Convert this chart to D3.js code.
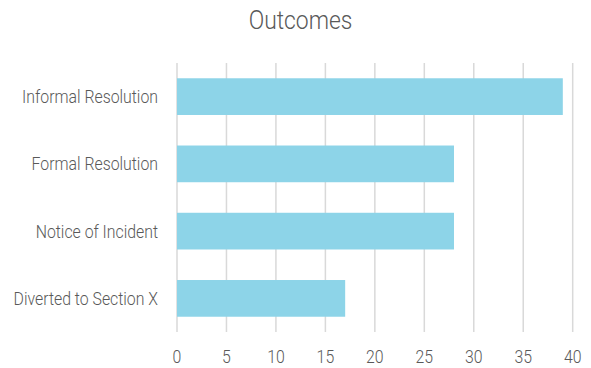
<!DOCTYPE html>
<html>
<head>
<meta charset="utf-8">
<script src="https://cdn.jsdelivr.net/npm/d3@7"></script>
<style>
  html, body { margin: 0; padding: 0; background: #fff; }
  text { font-family: Roboto, "Noto Sans", sans-serif; font-weight: 300; fill: #595959; }
</style>
</head>
<body>
<svg id="chart" width="591" height="368"></svg>
<script>
const categories = ["Informal Resolution", "Formal Resolution", "Notice of Incident", "Diverted to Section X"];
const values = [39, 28, 28, 17];
const tickValues = [0, 5, 10, 15, 20, 25, 30, 35, 40];
const title = "Outcomes";

const plot = { left: 177, right: 572.7, top: 63, bottom: 332 };
const squeeze = 0.88; // narrow letterforms

const svg = d3.select("#chart");

const x = d3.scaleLinear().domain([0, 40]).range([plot.left, plot.right]);
const y = d3.scaleBand().domain(categories).range([plot.top, plot.bottom])
  .paddingInner(0.454).paddingOuter(0.227);

// vertical gridlines
svg.append("g").selectAll("line").data(tickValues).join("line")
  .attr("x1", d => x(d)).attr("x2", d => x(d))
  .attr("y1", plot.top).attr("y2", plot.bottom)
  .attr("stroke", "#d9d9d9").attr("stroke-width", 1.5);

// bars
svg.append("g").selectAll("rect").data(categories).join("rect")
  .attr("x", x(0))
  .attr("y", d => y(d))
  .attr("width", (d, i) => x(values[i]) - x(0))
  .attr("height", y.bandwidth())
  .attr("fill", "#8dd4e8");

// category labels
svg.append("g").selectAll("text").data(categories).join("text")
  .attr("transform", d => `translate(158,${y(d) + y.bandwidth() / 2 + 6.5}) scale(${squeeze},1)`)
  .attr("text-anchor", "end")
  .attr("font-size", 18)
  .text(d => d);

// value axis tick labels
svg.append("g").selectAll("text").data(tickValues).join("text")
  .attr("transform", d => `translate(${x(d)},363) scale(${squeeze},1)`)
  .attr("text-anchor", "middle")
  .attr("font-size", 18)
  .text(d => d);

// title
svg.append("text")
  .attr("transform", `translate(300.5,29) scale(${squeeze},1)`)
  .attr("text-anchor", "middle")
  .attr("font-size", 26)
  .text(title);
</script>
</body>
</html>
